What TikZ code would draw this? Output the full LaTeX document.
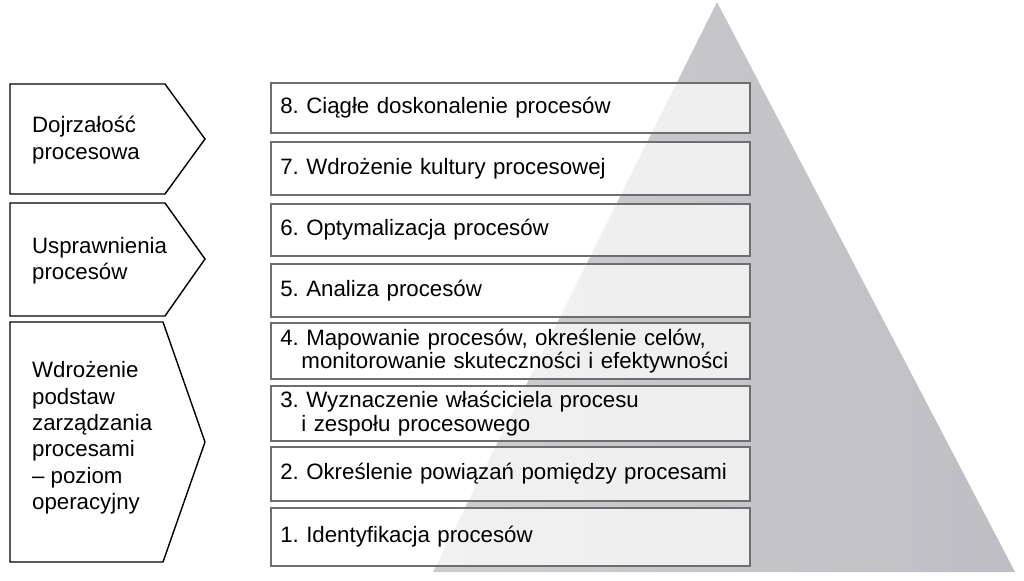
\documentclass[tikz,border=0pt]{standalone}
\usepackage{fontspec}
\setmainfont{Liberation Sans}
\usetikzlibrary{positioning}
\definecolor{pyrgray}{RGB}{165,165,170}
\definecolor{edgegray}{RGB}{110,110,110}
\tikzset{
  stepbox/.style={draw=edgegray, line width=1.6pt, fill=white, fill opacity=0.72, text opacity=1,
    minimum width=14.3cm, anchor=north west, text width=13.8cm, align=left, font=\fontsize{19}{20}\selectfont, inner xsep=8pt},
  phase/.style={draw=black, line width=1.2pt, fill=white},
  phasetext/.style={anchor=west, align=left, font=\fontsize{19}{22.5}\selectfont}
}
\begin{document}
\frenchspacing
\begin{tikzpicture}[x=0.03cm, y=-0.03cm]
\useasboundingbox (0,0) rectangle (1024,580);
% Pyramid
\shade[left color=pyrgray!55, right color=pyrgray!115!black] (717,2) -- (1015,572) -- (433,572) -- cycle;
% Steps
\foreach \n/\top/\h/\txt in {8/82/50/{8. Ciągłe doskonalenie procesów},
  7/141/53/{7. Wdrożenie kultury procesowej},
  6/203/52/{6. Optymalizacja procesów},
  5/263/53/{5. Analiza procesów},
  4/322/56/{4. Mapowanie procesów, określenie celów,\\\hspace*{0.95em}monitorowanie skuteczności i efektywności},
  3/385/55/{3. Wyznaczenie właściciela procesu\\\hspace*{0.95em}i zespołu procesowego},
  2/446/54/{2. Określenie powiązań pomiędzy procesami},
  1/507/58/{1. Identyfikacja procesów}} {
  \node[stepbox, minimum height=\h*0.03cm] (s\n) at (270,\top) {\txt};
}
% Phases
\draw[phase] (10,84) -- (165,84) -- (205,139) -- (165,194) -- (10,194) -- cycle;
\draw[phase] (10,203) -- (165,203) -- (205,259) -- (165,316) -- (10,316) -- cycle;
\draw[phase] (10,322) -- (163,322) -- (205,442) -- (163,562) -- (10,562) -- cycle;
\node[phasetext] (p1) at (28,140) {Dojrzałość\\procesowa};
\node[phasetext] (p2) at (28,261) {Usprawnienia\\procesów};
\node[phasetext] (p3) at (28,438) {Wdrożenie\\podstaw\\zarządzania\\procesami\\– poziom\\operacyjny};
\end{tikzpicture}
\end{document}
